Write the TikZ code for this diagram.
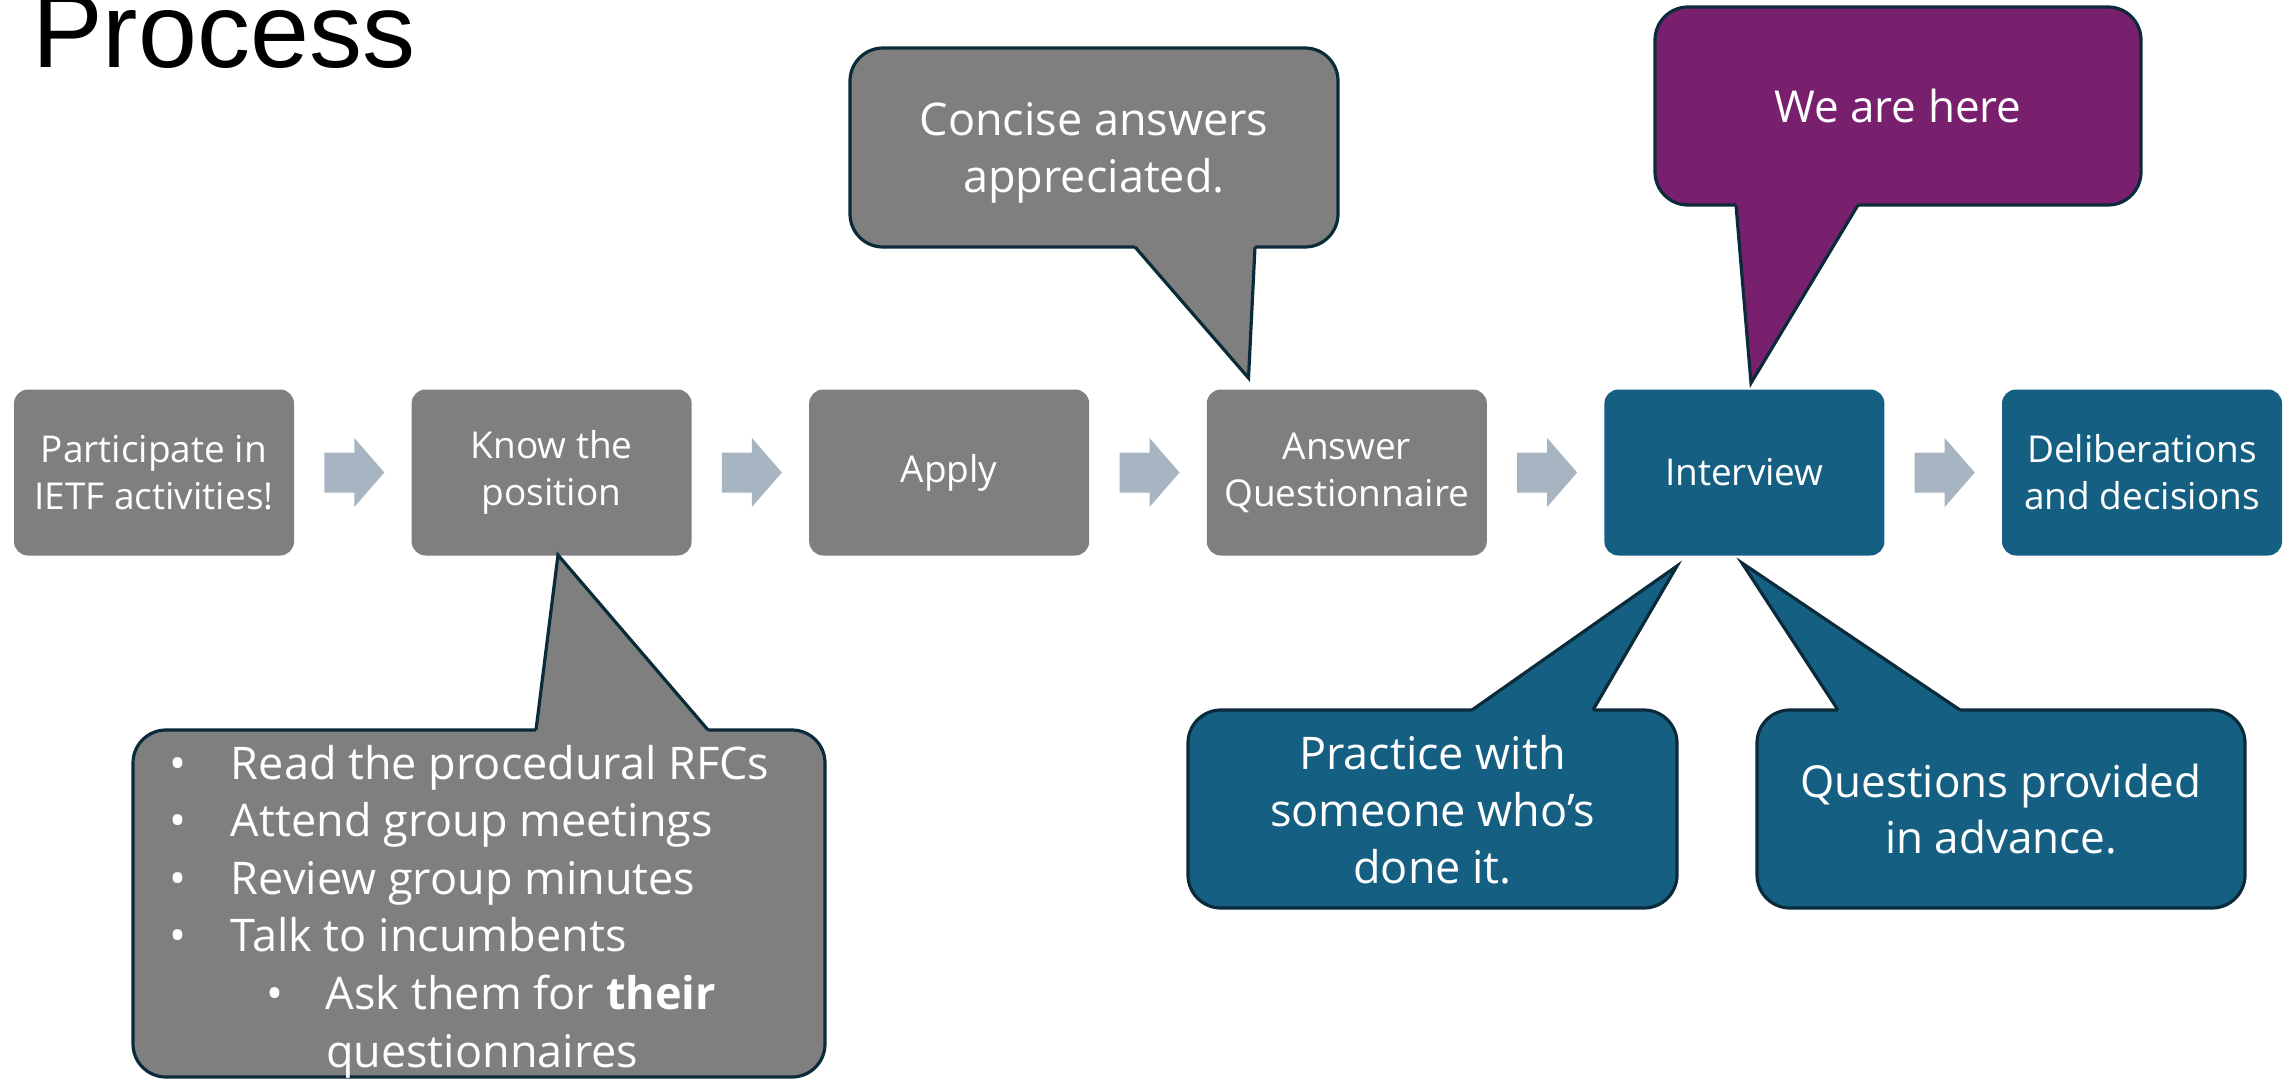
\documentclass[tikz,border=0pt]{standalone}
\usepackage{fontspec}
\setmainfont{Open Sans}
\newfontfamily\titlefont{Liberation Sans}
\usetikzlibrary{calc}
\definecolor{boxgray}{HTML}{7F7F7F}
\definecolor{tealc}{HTML}{156082}
\definecolor{purplec}{HTML}{78206E}
\definecolor{outl}{HTML}{0B2B3B}
\definecolor{arrowc}{HTML}{A7B5C2}
\begin{document}
\begin{tikzpicture}[x=1pt,y=-1pt,
  stepbox/.style={rounded corners=14pt, minimum width=280pt, minimum height=166pt,
    text=white, align=center, font=\fontsize{37}{47}\selectfont, inner sep=0pt, outer sep=0pt},
  callbody/.style={draw=outl, line width=3.2pt, rounded corners=33pt, text=white, align=center,
    font=\fontsize{44}{56.5}\selectfont, inner sep=0pt, outer sep=0pt},
  calltext/.style={text=white, align=center, font=\fontsize{45}{57}\selectfont, inner sep=0pt},
  tailline/.style={draw=outl, line width=3.2pt, line join=miter},
  blockarrow/.style={fill=arrowc},
  bulletline/.style={anchor=base west, inner sep=0pt, outer sep=0pt, text=white,
    font=\fontsize{45}{57}\selectfont},
]
\useasboundingbox (0,0) rectangle (2295,1079);

% title
\node[anchor=base west, inner sep=0pt, font=\titlefont\fontsize{106}{112}\selectfont] (title) at (32,67) {Process};

% process boxes
\node[stepbox, fill=boxgray] (b1) at (154,472.5) {Participate in\\IETF activities!};
\node[stepbox, fill=boxgray] (b2) at (551.6,472.5) {Know the\\position};
\node[stepbox, fill=boxgray] (b3) at (949.2,472.5) {Apply};
\node[stepbox, fill=boxgray] (b4) at (1346.8,472.5) {Answer\\Questionnaire};
\node[stepbox, fill=tealc] (b5) at (1744.4,472.5) {Interview};
\node[stepbox, fill=tealc] (b6) at (2142,472.5) {Deliberations\\and decisions};

% block arrows between boxes
\foreach \a/\b in {b1/b2,b2/b3,b3/b4,b4/b5,b5/b6}{
  \path let \p1=($(\a.east)!0.5!(\b.west)$) in
    [blockarrow] (\x1-28.5pt,\y1+20pt) -- (\x1+1.5pt,\y1+20pt) -- (\x1+1.5pt,\y1+34.5pt)
    -- (\x1+31.5pt,\y1) -- (\x1+1.5pt,\y1-34.5pt) -- (\x1+1.5pt,\y1-20pt)
    -- (\x1-28.5pt,\y1-20pt) -- cycle;
}

% callout 1: Concise answers
\node[callbody, fill=boxgray, minimum width=488pt, minimum height=199pt] (c1) at (1094,147.5) {};
\node[calltext] (c1t) at (1094,153) {Concise answers\\appreciated.};
\coordinate (t1) at (1248.5,378);
\fill[boxgray] (1135,243) -- (1135,247) -- (t1) -- (1255,247) -- (1255,243) -- cycle;
\draw[tailline] (1135,247) -- (t1) -- (1255,247);

% callout 2: We are here
\node[callbody, fill=purplec, minimum width=486pt, minimum height=198pt] (c2) at (1898,106) {We are here};
\coordinate (t2) at (1751,383);
\fill[purplec] (1736,201) -- (1736,205) -- (t2) -- (1858,205) -- (1858,201) -- cycle;
\draw[tailline] (1736,205) -- (t2) -- (1858,205);

% callout 3: bullet list
\node[callbody, fill=boxgray, minimum width=692pt, minimum height=347pt] (c3) at (479,903.5) {};
\coordinate (t3) at (558,555);
\fill[boxgray] (536,734) -- (536,730) -- (t3) -- (708,730) -- (708,734) -- cycle;
\draw[tailline] (536,730) -- (t3) -- (708,730);
\node[bulletline] (l1) at (169,779) {\makebox[62pt][l]{•}Read the procedural RFCs};
\node[bulletline] (l2) at (169,836.6) {\makebox[62pt][l]{•}Attend group meetings};
\node[bulletline] (l3) at (169,894.2) {\makebox[62pt][l]{•}Review group minutes};
\node[bulletline] (l4) at (169,951.8) {\makebox[62pt][l]{•}Talk to incumbents};
\node[bulletline] (l5) at (266,1009.4) {\makebox[60pt][l]{•}Ask them for \textbf{their}};
\node[bulletline] (l6) at (326,1067) {questionnaires};

% callout 4: Practice
\node[callbody, fill=tealc, minimum width=489pt, minimum height=198pt] (c4) at (1432.5,809) {};
\node[calltext] (c4t) at (1432.5,810) {Practice with\\someone who’s\\done it.};
\coordinate (t4) at (1677,566);
\fill[tealc] (1472,714) -- (1472,710) -- (t4) -- (1593,710) -- (1593,714) -- cycle;
\draw[tailline] (1472,710) -- (t4) -- (1593,710);

% callout 5: Questions
\node[callbody, fill=tealc, minimum width=488pt, minimum height=198pt] (c5) at (2001,809) {Questions provided\\in advance.};
\coordinate (t5) at (1742,563);
\fill[tealc] (1838,714) -- (1838,710) -- (t5) -- (1960,710) -- (1960,714) -- cycle;
\draw[tailline] (1838,710) -- (t5) -- (1960,710);
\end{tikzpicture}
\end{document}
